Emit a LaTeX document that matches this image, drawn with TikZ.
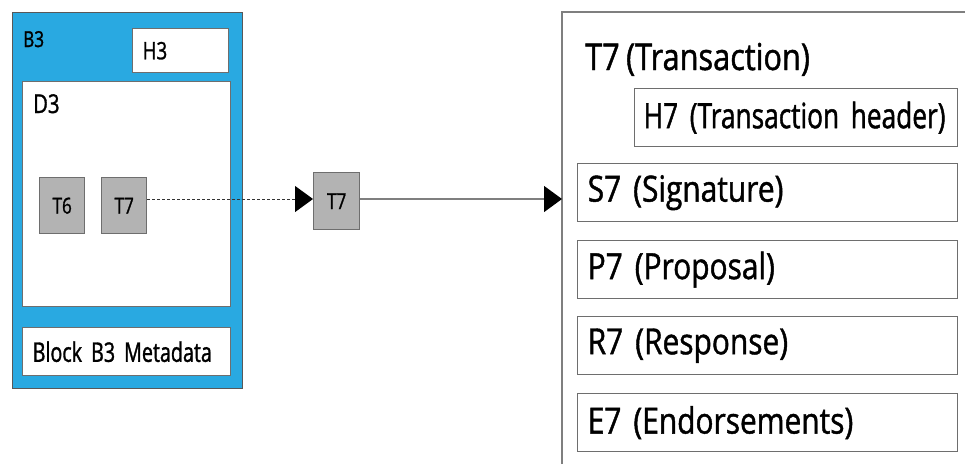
\documentclass[tikz,border=0pt]{standalone}
\usepackage{fontspec}
\setmainfont{Open Sans}[FakeStretch=0.83, FakeBold=1.2, WordSpace=0.8]
\newfontfamily\headerfont{Open Sans}[FakeStretch=0.75, FakeBold=1.2, WordSpace=0.8]
\newfontfamily\narrowfont{Open Sans}[FakeStretch=0.78, FakeBold=1.2, WordSpace=0.8]
\newfontfamily\tightfont{Open Sans}[FakeStretch=0.73, FakeBold=1.2, WordSpace=0.6]
\usetikzlibrary{arrows.meta}

\definecolor{blockblue}{HTML}{29A9E1}
\definecolor{txgray}{HTML}{B3B3B3}
\definecolor{edgegray}{HTML}{6E6E6E}
\definecolor{linegray}{HTML}{7F7F7F}

\begin{document}
\begin{tikzpicture}[x=1pt, y=-1pt,
  frame/.style={draw=edgegray, line width=1.4pt, inner sep=0pt, anchor=north west},
  blockframe/.style={frame, draw=#1!80!black, fill=blockblue},
  whitebox/.style={frame, fill=white},
  txbox/.style={frame, fill=txgray, minimum width=45pt, minimum height=56pt,
    font=\narrowfont\fontsize{22}{22}\selectfont},
  fieldbox/.style={frame, fill=white, align=left, inner xsep=10pt,
    minimum height=58pt, font=\fontsize{36}{36}\selectfont},
  smalltext/.style={inner sep=0pt, anchor=base west},
  tip/.style={-{Triangle[length=18pt, width=26pt, color=black]}},
]
\useasboundingbox (0,0) rectangle (965,464);

% Block B3 with its header, data and metadata
\node[blockframe=edgegray, minimum width=230pt, minimum height=376pt] (b3) at (12,12) {};
\node[smalltext, font=\narrowfont\fontsize{22}{22}\selectfont] (b3label) at (23,47) {B3};
\node[whitebox, minimum width=96pt, minimum height=44pt, align=left, inner xsep=10pt,
  text width=76pt, font=\narrowfont\fontsize{24}{24}\selectfont] (h3) at (132,28) {H3};
\node[whitebox, minimum width=208pt, minimum height=225pt] (d3) at (22,81) {};
\node[smalltext, font=\narrowfont\fontsize{26}{26}\selectfont] (d3label) at (33,113) {D3};
\node[whitebox, minimum width=208pt, minimum height=48pt, align=left, inner xsep=10pt,
  text width=188pt, font=\tightfont\fontsize{27}{27}\selectfont] (meta) at (22,327) {\mbox{Block B3 Metadata}};

% Transactions inside D3
\node[txbox] (t6) at (39,177) {T6};
\node[txbox] (t7a) at (101,177) {T7};

% Transaction T7 taken out of the block
\node[txbox, minimum width=46pt, minimum height=57pt] (t7b) at (313,172) {T7};

% Expanded transaction panel (open to the right and below)
\coordinate (panelbot) at (562,464);
\coordinate (paneltop) at (562,12);
\coordinate (panelend) at (965,12);
\coordinate (panelin) at (562,199);
\draw[draw=linegray, line width=1.4pt] (panelbot) -- (paneltop) -- (panelend);

\node[smalltext, font=\fontsize{37}{37}\selectfont] (t7title) at (585,70) {T7 (Transaction)};
\node[fieldbox, minimum width=323pt, text width=305pt, inner xsep=9pt,
  font=\headerfont\fontsize{35}{35}\selectfont] (h7) at (634,88) {\mbox{H7 (Transaction header)}};
\node[fieldbox, minimum width=380pt, text width=360pt] (s7) at (577,163) {S7 (Signature)};
\node[fieldbox, minimum width=380pt, text width=360pt] (p7) at (577,240) {P7 (Proposal)};
\node[fieldbox, minimum width=380pt, text width=360pt] (r7) at (577,316) {R7 (Response)};
\node[fieldbox, minimum width=380pt, text width=360pt] (e7) at (577,393) {E7 (Endorsements)};

% Connectors
\draw[tip, draw=black!80, line width=1pt, dash pattern=on 3pt off 2pt]
  (t7a.east |- panelin) -- (t7b.west |- panelin);
\draw[tip, draw=linegray, line width=1.4pt] (t7b.east |- panelin) -- (panelin);
\end{tikzpicture}
\end{document}
